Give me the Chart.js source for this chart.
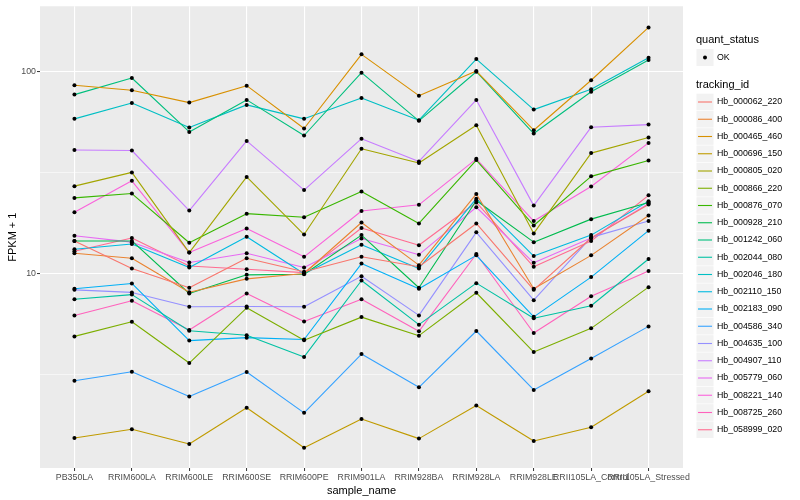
<!DOCTYPE html>
<html><head><meta charset="utf-8">
<script src="https://cdn.jsdelivr.net/npm/chart.js@4"></script>
<style>html,body{margin:0;padding:0;background:#fff;}#wrap{width:800px;height:500px;}</style>
</head><body><div id="wrap"><canvas id="c" width="800" height="500"></canvas></div>
<script>
const categories = ["PB350LA","RRIM600LA","RRIM600LE","RRIM600SE","RRIM600PE","RRIM901LA","RRIM928BA","RRIM928LA","RRIM928LE","RRII105LA_Control","RRII105LA_Stressed"];
const yMajorTicks = [10, 100];
const yMinorTicks = [3.1623, 31.623];

const Hb_000062_220 = [14.5, 10.6, 8.5, 11.9, 10.2, 12.1, 10.8, 17.7, 8.3, 15.0, 22.0];
const Hb_000086_400 = [12.6, 11.9, 8.07, 9.41, 10.0, 17.9, 11.0, 24.8, 8.4, 12.3, 19.4];
const Hb_000465_460 = [85.7, 80.9, 70.3, 85.3, 52.3, 121.9, 76.1, 100.8, 51.3, 90.7, 165.8];
const Hb_000696_150 = [1.53, 1.69, 1.43, 2.16, 1.37, 1.90, 1.52, 2.22, 1.48, 1.73, 2.61];
const Hb_000805_020 = [27.1, 31.7, 12.7, 30.1, 15.6, 41.5, 35.3, 54.3, 15.8, 39.5, 47.2];
const Hb_000866_220 = [4.88, 5.77, 3.60, 6.76, 4.67, 6.08, 4.92, 8.03, 4.08, 5.35, 8.56];
const Hb_000876_070 = [23.7, 24.9, 14.2, 19.8, 19.0, 25.5, 17.7, 36.5, 17.3, 30.3, 36.3];
const Hb_000928_210 = [14.5, 14.5, 7.96, 9.85, 9.92, 15.5, 8.5, 23.0, 14.3, 18.6, 22.5];
const Hb_001242_060 = [77.0, 93.1, 50.3, 72.5, 48.3, 98.9, 57.1, 100, 49.4, 79.6, 114.2];
const Hb_002044_080 = [7.46, 7.86, 5.2, 4.94, 3.86, 9.23, 5.58, 8.96, 6.0, 6.92, 11.8];
const Hb_002046_180 = [58.4, 70.0, 52.9, 68.5, 58.4, 74.1, 57.5, 115.5, 64.9, 81.8, 117.3];
const Hb_002110_150 = [13.2, 14.0, 10.7, 15.2, 9.98, 13.9, 10.6, 23.5, 12.2, 15.5, 22.8];
const Hb_002183_090 = [8.40, 8.93, 4.65, 4.81, 4.71, 11.2, 8.4, 12.3, 6.1, 9.6, 16.3];
const Hb_004586_340 = [2.94, 3.26, 2.46, 3.25, 2.04, 3.99, 2.73, 5.19, 2.65, 3.79, 5.47];
const Hb_004635_100 = [8.30, 8.06, 6.84, 6.86, 6.84, 9.7, 6.2, 16.0, 7.38, 15.1, 18.2];
const Hb_004907_110 = [40.9, 40.7, 20.5, 45.4, 25.9, 46.6, 35.9, 72.5, 21.7, 53.1, 54.7];
const Hb_005779_060 = [15.4, 14.3, 11.33, 12.6, 10.7, 14.9, 12.4, 21.3, 11.3, 15.0, 22.2];
const Hb_008221_140 = [20.1, 28.8, 12.7, 16.7, 12.1, 20.4, 21.9, 37.0, 18.2, 27.0, 44.4];
const Hb_008725_260 = [6.20, 7.33, 5.25, 7.96, 5.79, 7.46, 5.17, 12.5, 5.07, 7.72, 10.3];
const Hb_058999_020 = [12.9, 15.0, 10.9, 10.5, 10.1, 16.8, 13.8, 22.5, 10.8, 14.5, 24.4];

const seriesNames = ["Hb_000062_220","Hb_000086_400","Hb_000465_460","Hb_000696_150","Hb_000805_020","Hb_000866_220","Hb_000876_070","Hb_000928_210","Hb_001242_060","Hb_002044_080","Hb_002046_180","Hb_002110_150","Hb_002183_090","Hb_004586_340","Hb_004635_100","Hb_004907_110","Hb_005779_060","Hb_008221_140","Hb_008725_260","Hb_058999_020"];
const seriesValues = [Hb_000062_220,Hb_000086_400,Hb_000465_460,Hb_000696_150,Hb_000805_020,Hb_000866_220,Hb_000876_070,Hb_000928_210,Hb_001242_060,Hb_002044_080,Hb_002046_180,Hb_002110_150,Hb_002183_090,Hb_004586_340,Hb_004635_100,Hb_004907_110,Hb_005779_060,Hb_008221_140,Hb_008725_260,Hb_058999_020];
const seriesColors = ["#F8766D","#EA8331","#D89000","#C09B00","#A3A500","#7CAE00","#39B600","#00BB4E","#00BF7D","#00C1A3","#00BFC4","#00BAE0","#00B0F6","#35A2FF","#9590FF","#C77CFF","#E76BF3","#FA62DB","#FF62BC","#FF6C91"];

const FONT = '"Liberation Sans", Arial, Helvetica, sans-serif';

const datasets = [];
seriesValues.forEach((vals, k) => {
  const pts = vals.map((v, i) => ({x: i, y: v}));
  datasets.push({label: seriesNames[k], data: pts, borderColor: seriesColors[k], backgroundColor: seriesColors[k],
    borderWidth: 1.1, pointRadius: 0, pointHoverRadius: 0, tension: 0, order: 1, fill: false});
});
seriesValues.forEach((vals, k) => {
  const pts = vals.map((v, i) => ({x: i, y: v}));
  datasets.push({label: seriesNames[k] + ' pts', data: pts, showLine: false, pointRadius: 2, pointHoverRadius: 2,
    pointBackgroundColor: '#000', pointBorderColor: '#000', pointBorderWidth: 0, order: 0});
});

const bgPlugin = {
  id: 'panelbg',
  beforeDraw(chart) {
    const {ctx, chartArea: a} = chart;
    ctx.save();
    ctx.fillStyle = '#EBEBEB';
    ctx.fillRect(a.left, a.top, a.right - a.left, a.bottom - a.top);
    ctx.restore();
  }
};

const legendPlugin = {
  id: 'gglegend',
  afterDraw(chart) {
    const ctx = chart.ctx;
    ctx.save();
    ctx.textBaseline = 'middle';
    ctx.textAlign = 'left';
    ctx.fillStyle = '#000';
    ctx.font = '11px ' + FONT;
    ctx.fillText('quant_status', 696, 40);
    ctx.fillStyle = '#F2F2F2';
    ctx.fillRect(696.5, 49, 17, 17);
    ctx.fillStyle = '#000';
    ctx.beginPath(); ctx.arc(705, 57.5, 2, 0, Math.PI * 2); ctx.fill();
    ctx.font = '8.8px ' + FONT;
    ctx.fillText('OK', 717, 57.5);
    ctx.font = '11px ' + FONT;
    ctx.fillText('tracking_id', 696, 85);
    const step = 17.25;
    seriesNames.forEach((n, i) => {
      const cy = 102 + i * step;
      ctx.fillStyle = '#F2F2F2';
      ctx.fillRect(696.5, cy - 8.3, 17, 16.6);
      ctx.strokeStyle = seriesColors[i];
      ctx.lineWidth = 1.1;
      ctx.beginPath(); ctx.moveTo(698, cy); ctx.lineTo(712, cy); ctx.stroke();
      ctx.fillStyle = '#000';
      ctx.font = '8.8px ' + FONT;
      ctx.fillText(n, 717, cy);
    });
    ctx.restore();
  }
};

const isMajor = v => yMajorTicks.some(m => Math.abs(m - v) < 1e-6);

new Chart(document.getElementById('c'), {
  type: 'line',
  data: {datasets},
  plugins: [bgPlugin, legendPlugin],
  options: {
    responsive: false,
    animation: false,
    devicePixelRatio: 1,
    layout: {padding: {left: 0, right: 117, top: 5, bottom: 0}},
    plugins: {legend: {display: false}, tooltip: {enabled: false}},
    elements: {line: {borderJoinStyle: 'round', borderCapStyle: 'round'}},
    scales: {
      x: {
        type: 'linear', min: -0.6, max: 10.6,
        afterBuildTicks: s => { s.ticks = categories.map((_, i) => ({value: i})); },
        afterFit: s => { s.height = 32; },
        ticks: {autoSkip: false, maxRotation: 0, minRotation: 0, padding: 1, color: '#4D4D4D',
          font: {family: FONT, size: 8.8}, callback: v => categories[v]},
        grid: {color: '#FFFFFF', lineWidth: 1.1, tickLength: 3, tickColor: '#333333', tickWidth: 1},
        border: {display: false},
        title: {display: true, text: 'sample_name', color: '#000', font: {family: FONT, size: 11}, padding: {top: 0, bottom: 2.7}}
      },
      y: {
        type: 'logarithmic', min: 1.087, max: 211,
        afterBuildTicks: s => { s.ticks = yMinorTicks.concat(yMajorTicks).sort((a, b) => a - b).map(v => ({value: v})); },
        afterFit: s => { s.width = 40; },
        ticks: {padding: 1, color: '#4D4D4D', font: {family: FONT, size: 8.8},
          callback: v => isMajor(v) ? String(Math.round(v)) : ''},
        grid: {color: '#FFFFFF', lineWidth: c => (c.tick && isMajor(c.tick.value)) ? 1.1 : 0.55,
          tickLength: 3, tickWidth: 1,
          tickColor: c => (c.tick && isMajor(c.tick.value)) ? '#333333' : 'rgba(0,0,0,0)'},
        border: {display: false},
        title: {display: true, text: 'FPKM + 1', color: '#000', font: {family: FONT, size: 11}, padding: {top: 6.4, bottom: 0}}
      }
    }
  }
});
</script></body></html>
